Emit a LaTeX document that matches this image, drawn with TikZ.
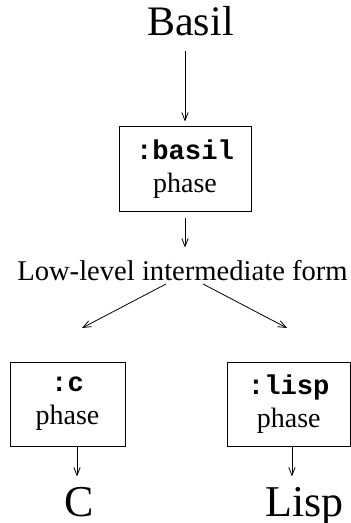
\documentclass[tikz,border=0pt]{standalone}
\usepackage{fontspec}
\setmainfont{Liberation Serif}
\setmonofont{Liberation Mono}
\usetikzlibrary{arrows.meta}
\begin{document}
\begin{tikzpicture}[x=0.5pt,y=-0.5pt,
  big/.style={font=\fontsize{21}{25}\selectfont, inner sep=0pt},
  bigb/.style={font=\fontsize{22}{26}\selectfont, inner sep=0pt},
  mid/.style={font=\fontsize{14.3}{17}\selectfont, inner sep=0pt},
  box/.style={draw, line width=0.5pt, align=center, inner sep=0pt,
    font=\fontsize{14}{16.5}\selectfont},
  arr/.style={-{Straight Barb[length=4pt,width=3.2pt]}, line width=0.4pt}]
\useasboundingbox (0,0) rectangle (351,523);
\newcommand{\cd}[1]{{\ttfamily\bfseries\fontsize{13.6}{16.5}\selectfont #1}}
\node[big, anchor=base] (basil) at (190.5,36) {Basil};
\node[box, minimum width=66pt, minimum height=42.5pt] (pb) at (185,169.5) {\cd{:basil}\\phase};
\node[mid, anchor=base] (low) at (182.5,280) {Low-level intermediate form};
\node[box, minimum width=57.5pt, minimum height=42pt] (pc) at (67.5,404) {\cd{:c}\\phase};
\node[box, minimum width=61.5pt, minimum height=42pt] (pl) at (288.75,404) {\cd{:lisp}\\phase};
\node[bigb, anchor=base] (c) at (79,516) {C};
\node[bigb, anchor=base] (lisp) at (304.5,516) {Lisp};
\coordinate (l1) at (166,284);
\coordinate (e1) at (82,328);
\coordinate (l2) at (203,284);
\coordinate (e2) at (287,328);
\draw[arr, shorten <=7pt, shorten >=2.5pt] (pb.north |- basil.south) -- (pb.north);
\draw[arr, shorten <=3pt, shorten >=6pt] (pb.south) -- (pb.south |- low.north);
\draw[arr] (l1) -- (e1);
\draw[arr] (l2) -- (e2);
\draw[arr, shorten >=5pt] ([xshift=-1pt]c.north |- pc.south) -- ([xshift=-1pt]c.north);
\draw[arr, shorten >=5pt] ([xshift=1.6pt]pl.south) -- ([xshift=1.6pt]pl.south |- lisp.north);
\end{tikzpicture}
\end{document}
